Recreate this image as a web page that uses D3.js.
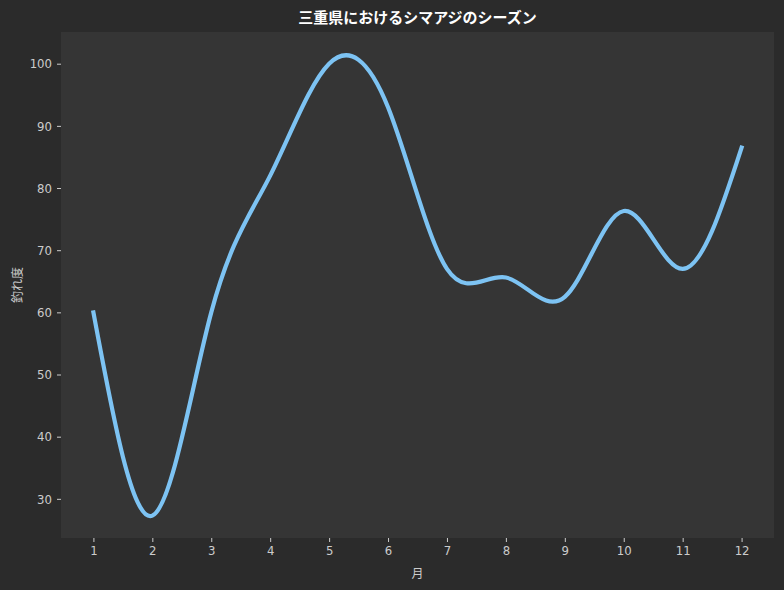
<!DOCTYPE html>
<html>
<head>
<meta charset="utf-8">
<script src="https://cdn.jsdelivr.net/npm/d3@7"></script>
<style>
	body { margin: 0; background: #2b2b2b; }
	svg { display: block; font-family: "Noto Sans CJK JP", "Noto Sans", sans-serif; }
</style>
</head>
<body>
<svg id="chart"></svg>
<script>
const months = [1, 2, 3, 4, 5, 6, 7, 8, 9, 10, 11, 12];
const catchRate = [60, 27.3, 60, 82, 100, 93, 67, 65.6, 62.5, 76.3, 67, 86.5];
const yTicks = [30, 40, 50, 60, 70, 80, 90, 100];
const title = '三重県におけるシマアジのシーズン';

const width = 784;
const height = 590;
const margin = {top: 32, right: 10, bottom: 52, left: 61};

const svg = d3.select('#chart')
	.attr('width', width)
	.attr('height', height);

svg.append('rect')
	.attr('width', width)
	.attr('height', height)
	.attr('fill', '#2b2b2b');

const x = d3.scaleLinear()
	.domain([0.45, 12.55])
	.range([margin.left, width - margin.right]);

const y = d3.scaleLinear()
	.domain([23.7, 105.1])
	.range([height - margin.bottom, margin.top]);

// plot area
svg.append('rect')
	.attr('x', margin.left)
	.attr('y', margin.top)
	.attr('width', width - margin.left - margin.right)
	.attr('height', height - margin.top - margin.bottom)
	.attr('fill', '#353535');

const xAxis = svg.append('g')
	.attr('transform', `translate(0,${height - margin.bottom})`)
	.call(d3.axisBottom(x).tickValues(months).tickSize(4).tickPadding(4).tickFormat(d3.format('d')));

const yAxis = svg.append('g')
	.attr('transform', `translate(${margin.left},0)`)
	.call(d3.axisLeft(y).tickValues(yTicks).tickSize(4).tickPadding(5));

[xAxis, yAxis].forEach(a => {
	a.select('.domain').remove();
	a.selectAll('line').attr('stroke', '#cccccc');
	a.selectAll('text')
		.attr('fill', '#cccccc')
		.style('font-size', '13px')
		.style('font-family', '"DejaVu Sans Condensed", "DejaVu Sans", sans-serif')
		.style('font-stretch', 'condensed');
});

const line = d3.line()
	.x((d, i) => x(months[i]))
	.y(d => y(d))
	.curve(d3.curveNatural);

svg.append('path')
	.datum(catchRate)
	.attr('d', line)
	.attr('fill', 'none')
	.attr('stroke', '#7dc3f3')
	.attr('stroke-width', 4.2)
	.attr('stroke-linecap', 'square');

svg.append('text')
	.attr('x', (margin.left + width - margin.right) / 2)
	.attr('y', 23)
	.attr('text-anchor', 'middle')
	.attr('fill', '#ffffff')
	.style('font-size', '15px')
	.style('font-weight', 'bold')
	.text(title);

svg.append('text')
	.attr('x', (margin.left + width - margin.right) / 2)
	.attr('y', 578)
	.attr('text-anchor', 'middle')
	.attr('fill', '#cccccc')
	.style('font-size', '12px')
	.text('月');

svg.append('text')
	.attr('transform', `translate(22,${(margin.top + height - margin.bottom) / 2}) rotate(-90)`)
	.attr('text-anchor', 'middle')
	.attr('fill', '#cccccc')
	.style('font-size', '12px')
	.text('釣れ度');
</script>
</body>
</html>
